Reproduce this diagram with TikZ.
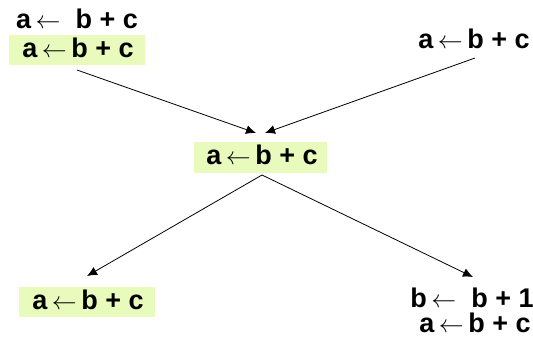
\documentclass[tikz,border=0pt]{standalone}
\usepackage{fontspec}
\setmainfont{Liberation Sans}
\usetikzlibrary{arrows.meta}
\definecolor{hl}{RGB}{232,250,188}
\newcommand{\la}{\ensuremath{\leftarrow}}
\tikzset{
  stmt/.style={font=\bfseries\fontsize{27}{27}\selectfont, inner sep=0pt, anchor=base},
  hlbox/.style={fill=hl, inner sep=0pt},
  conn/.style={draw=black, line width=0.8pt, -{Latex[length=10pt,width=9pt]}}
}
\begin{document}
\begin{tikzpicture}[x=1pt,y=-1pt]
\useasboundingbox (0,0) rectangle (533,341);
% boxes
\node[hlbox, minimum width=136pt, minimum height=30pt] (tlbox) at (77,50) {};
\node[hlbox, minimum width=133pt, minimum height=31pt] (midbox) at (260.5,157.5) {};
\node[hlbox, minimum width=136pt, minimum height=30pt] (blbox) at (87,302) {};
% texts
\node[stmt] (tl1) at (77,28) {a\,\la\ \ b + c};
\node[stmt] (tl2) at (78,57) {a\,\la\,b + c};
\node[stmt] (tr) at (474,48) {a\,\la\,b + c};
\node[stmt] (mid) at (262,164) {a\,\la\,b + c};
\node[stmt] (bl) at (88,309) {a\,\la\,b + c};
\node[stmt] (br1) at (472,307) {b\,\la\ \ b + 1};
\node[stmt] (br2) at (475,332) {a\,\la\,b + c};
% connector ends
\coordinate (s1) at (77,70);
\coordinate (s2) at (475,58);
\coordinate (t1) at (256,133);
\coordinate (t2) at (265,133);
\coordinate (apex) at (262,175);
\coordinate (t3) at (87,276);
\coordinate (t4) at (473,277);
\draw[conn] (s1) -- (t1);
\draw[conn] (s2) -- (t2);
\draw[conn] (apex) -- (t3);
\draw[conn] (apex) -- (t4);
\end{tikzpicture}
\end{document}
